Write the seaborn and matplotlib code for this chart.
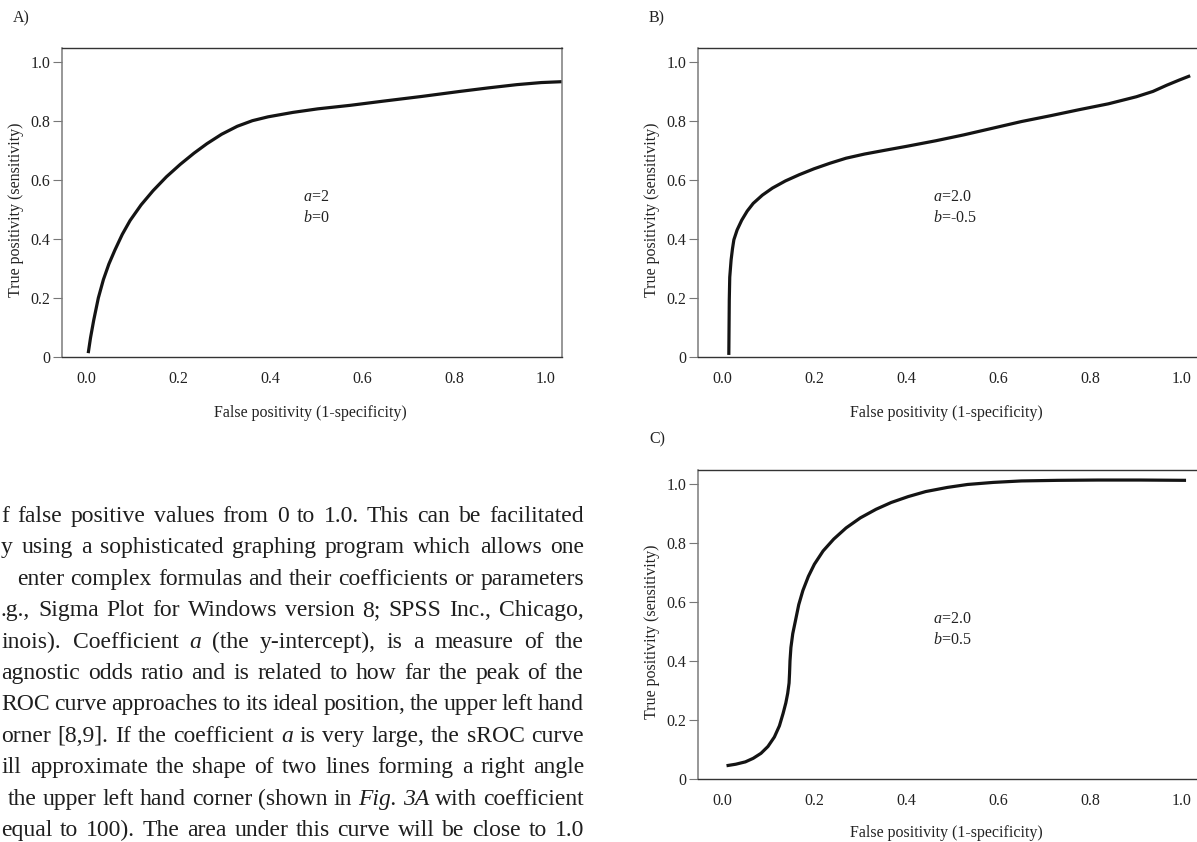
import matplotlib
matplotlib.use("Agg")
import matplotlib.pyplot as plt
import seaborn as sns
import pandas as pd

# ---------------- data ----------------
a_fpr = [0.005, 0.010, 0.017, 0.027, 0.038, 0.050, 0.063, 0.079, 0.096, 0.120,
         0.146, 0.175, 0.205, 0.235, 0.263, 0.295, 0.329, 0.362, 0.396, 0.450,
         0.504, 0.575, 0.646, 0.730, 0.813, 0.875, 0.937, 0.990, 1.035]
a_tpr = [0.013, 0.065, 0.125, 0.200, 0.262, 0.315, 0.362, 0.415, 0.462, 0.515,
         0.563, 0.610, 0.652, 0.690, 0.722, 0.754, 0.781, 0.800, 0.813, 0.828,
         0.840, 0.852, 0.866, 0.882, 0.899, 0.911, 0.922, 0.929, 0.932]

b_fpr = [0.015, 0.0155, 0.016, 0.017, 0.020, 0.023, 0.026, 0.033, 0.043, 0.055,
         0.068, 0.088, 0.110, 0.138, 0.168, 0.200, 0.235, 0.270, 0.310, 0.355,
         0.401, 0.465, 0.526, 0.590, 0.651, 0.715, 0.776, 0.840, 0.901, 0.937,
         0.967, 0.995, 1.018]
b_tpr = [0.007, 0.100, 0.193, 0.270, 0.329, 0.367, 0.397, 0.430, 0.463, 0.494,
         0.520, 0.548, 0.572, 0.596, 0.617, 0.637, 0.656, 0.673, 0.687, 0.700,
         0.713, 0.732, 0.752, 0.775, 0.797, 0.817, 0.837, 0.857, 0.881, 0.899,
         0.920, 0.938, 0.952]

c_fpr = [0.010, 0.030, 0.051, 0.068, 0.085, 0.100, 0.114, 0.125, 0.133, 0.139,
         0.143, 0.146, 0.147, 0.148, 0.150, 0.154, 0.160, 0.167, 0.176, 0.188,
         0.201, 0.220, 0.243, 0.270, 0.301, 0.335, 0.368, 0.405, 0.443, 0.490,
         0.534, 0.590, 0.651, 0.730, 0.817, 0.910, 1.009]
c_tpr = [0.045, 0.050, 0.058, 0.070, 0.087, 0.110, 0.142, 0.180, 0.222, 0.258,
         0.290, 0.325, 0.357, 0.400, 0.445, 0.492, 0.537, 0.590, 0.638, 0.686,
         0.727, 0.772, 0.812, 0.850, 0.884, 0.913, 0.936, 0.956, 0.973, 0.987,
         0.997, 1.004, 1.009, 1.011, 1.012, 1.012, 1.011]

x_ticks = [0.0, 0.2, 0.4, 0.6, 0.8, 1.0]
x_tick_labels = ["0.0", "0.2", "0.4", "0.6", "0.8", "1.0"]
y_ticks = [0.0, 0.2, 0.4, 0.6, 0.8, 1.0]
y_tick_labels = ["0", "0.2", "0.4", "0.6", "0.8", "1.0"]

panel_labels = ["A)", "B)", "C)"]
coef_a = ["2", "2.0", "2.0"]
coef_b = ["0", "-0.5", "0.5"]
x_label = "False positivity (1-specificity)"
y_label = "True positivity (sensitivity)"

body_lines = [
    "f false positive values from 0 to 1.0. This can be facilitated",
    "y using a sophisticated graphing program which allows one",
    "enter complex formulas and their coefficients or parameters",
    ".g., Sigma Plot for Windows version 8; SPSS Inc., Chicago,",
    "inois). Coefficient *a* (the y-intercept), is a measure of the",
    "agnostic odds ratio and is related to how far the peak of the",
    "ROC curve approaches to its ideal position, the upper left hand",
    "orner [8,9]. If the coefficient *a* is very large, the sROC curve",
    "ill approximate the shape of two lines forming a right angle",
    "the upper left hand corner (shown in *Fig.* *3A* with coefficient",
    "equal to 100). The area under this curve will be close to 1.0",
]

# ---------------- layout (pixels of a 1197x842 canvas) ----------------
W, H = 1197, 842
body_left = [1, 1, 17, 1, 2, 1, 1, 1, 2, 8, 1]
body_right = 584
body_base0, body_step = 522, 31.4
body_size = 17.0

sns.set_theme(style="white")
plt.rcParams["font.family"] = ["Liberation Serif", "DejaVu Serif"]
plt.rcParams["mathtext.fontset"] = "custom"
plt.rcParams["mathtext.it"] = "Liberation Serif:italic"
plt.rcParams["mathtext.rm"] = "Liberation Serif"

fig = plt.figure(figsize=(W / 100, H / 100), dpi=100)
fig.patch.set_facecolor("white")

axes_px = [(62, 48), (698, 48), (698, 470)]  # left, top in px
ax_w, ax_h = 500, 309
panel_lab_px = [(13, 18), (649, 18), (649, 439)]
ann_x = [0.471, 0.459, 0.459]
xlab_y = [-0.181, -0.181, -0.175]

curves = [(a_fpr, a_tpr), (b_fpr, b_tpr), (c_fpr, c_tpr)]
txt_col = "#222222"
lab_size = 11.5

for i, ((lx, ty), (fx, fy)) in enumerate(zip(axes_px, curves)):
    ax = fig.add_axes([lx / W, 1 - (ty + ax_h) / H, ax_w / W, ax_h / H])
    df = pd.DataFrame({"fpr": fx, "tpr": fy})
    sns.lineplot(data=df, x="fpr", y="tpr", sort=False, estimator=None,
                 color="#141414", linewidth=2.3, ax=ax)
    for ln in ax.lines:
        ln.set_solid_joinstyle("round")
        ln.set_solid_capstyle("butt")
    ax.set_xlim(-0.052, 1.035)
    ax.set_ylim(0, 1.046)
    ax.set_xticks(x_ticks, x_tick_labels)
    ax.set_yticks(y_ticks, y_tick_labels)
    ax.tick_params(axis="x", length=0, pad=10, labelsize=lab_size, labelcolor=txt_col)
    ax.tick_params(axis="y", left=True, length=6.5, width=0.8, pad=2,
                   color="#777777", labelsize=lab_size, labelcolor=txt_col)
    for s in ["top", "bottom"]:
        ax.spines[s].set_color("#333333")
        ax.spines[s].set_linewidth(1.0)
    for s in ["left", "right"]:
        ax.spines[s].set_color("#7a7a7a")
        ax.spines[s].set_linewidth(1.1)
    ax.set_xlabel(x_label, fontsize=lab_size, color=txt_col)
    ax.set_ylabel(y_label, fontsize=lab_size, color=txt_col)
    ax.xaxis.set_label_coords(0.496, xlab_y[i])
    ax.xaxis.label.set_va("center")
    ax.yaxis.set_label_coords(-0.091, 0.475)
    ax.yaxis.label.set_va("center")
    ax.text(ann_x[i], 0.54, "$a$=" + coef_a[i], fontsize=lab_size, color=txt_col,
            ha="left", va="center")
    ax.text(ann_x[i], 0.47, "$b$=" + coef_b[i], fontsize=lab_size, color=txt_col,
            ha="left", va="center")
    px, py = panel_lab_px[i]
    fig.text(px / W, 1 - py / H, panel_labels[i], fontsize=lab_size, color=txt_col,
             ha="left", va="center")

# ---------------- justified body text ----------------
fig.canvas.draw()
renderer = fig.canvas.get_renderer()
for k, line in enumerate(body_lines):
    items = []
    for w in line.split(" "):
        italic = w.startswith("*") and w.endswith("*")
        items.append((w.strip("*"), italic))
    texts, widths = [], []
    for w, it in items:
        t = fig.text(0, 0, w, fontsize=body_size, color="#1e1e1e",
                     style="italic" if it else "normal", ha="left", va="baseline")
        widths.append(t.get_window_extent(renderer).width)
        texts.append(t)
    left = body_left[k]
    gap = (body_right - left - sum(widths)) / max(len(items) - 1, 1)
    gap = max(gap, 2.5)
    x = left
    base = body_base0 + body_step * k
    for t, wd in zip(texts, widths):
        t.set_position((x / W, 1 - base / H))
        x += wd + gap

fig.savefig("out.png", dpi=100, facecolor="white")
